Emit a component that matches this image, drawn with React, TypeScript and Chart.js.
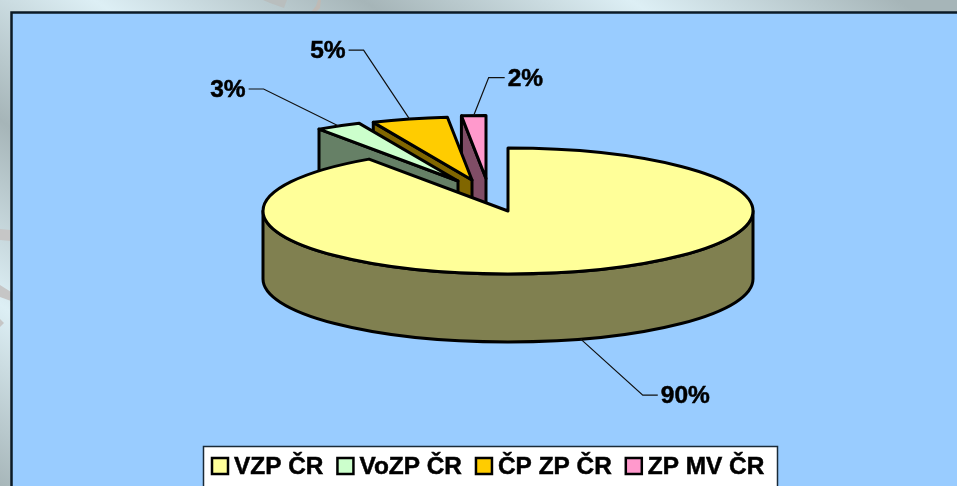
import React, { useEffect, useRef } from "react";
import { Chart, registerables } from "chart.js";

Chart.register(...registerables);

const categories = ["VZP ČR", "VoZP ČR", "ČP ZP ČR", "ZP MV ČR"];
const shares = [90.4, 3.0, 5.0, 1.6];
const topColors = ["#FFFF99", "#CCFFCC", "#FFCC00", "#FF99CC"];
const sideColors = ["#808050", "#668066", "#806600", "#804D66"];

const FONT = '"Liberation Sans", Arial, sans-serif';
const TILT = 63 / 245;
const DEPTH = 68;
// Exploded displacement of each slice on the page, px.
const explode = [
  [0, 0],
  [-50, -30],
  [-36, -31],
  [-22, -32.5],
];
// Elbow of each leader line, relative to its anchor on the slice rim.
const leaderElbow = [
  [62, 56],
  [-75, -37],
  [-46, -69],
  [15, -38],
];
const leaderRun = [15, -15, -15, 16];
const drawOrder = [3, 2, 1, 0];

function poly(ctx: any, color: string, pts: number[][]) {
  ctx.fillStyle = color;
  ctx.beginPath();
  pts.forEach(([x, y], i) => (i ? ctx.lineTo(x, y) : ctx.moveTo(x, y)));
  ctx.closePath();
  ctx.fill();
}

const pie3d = {
  id: "pie3d",
  beforeDraw(chart: any) {
    const { ctx, width, height } = chart;
    ctx.save();
    // Slide-master backdrop: diagonal bands and fragments of a grey swoosh.
    const g = ctx.createLinearGradient(-710, 0, -191, -752);
    const light = "#DDEFF5";
    const dark = "#A6B5B8";
    [dark, light, dark, light, dark, light, dark].forEach((c, i) => g.addColorStop(i / 6, c));
    ctx.fillStyle = g;
    ctx.fillRect(0, 0, width, height);
    poly(ctx, "#C6C6C6", [[0, 229], [11, 230], [11, 241], [0, 240]]);
    poly(ctx, "#C6C6C6", [[0, 285], [11, 292], [11, 301], [0, 297]]);
    poly(ctx, "#C6C6C6", [[0, 319], [4, 323], [0, 327]]);
    poly(ctx, "#B9BEBE", [[263, 0], [287, 0], [284, 8], [270, 3]]);
    poly(ctx, "#BFBAB5", [[311, 12], [316, 6], [318, 0], [321, 0], [320, 8], [316, 12]]);

    ctx.fillStyle = "#99CCFF";
    ctx.strokeStyle = "#0b1a26";
    ctx.lineWidth = 2.5;
    ctx.beginPath();
    ctx.rect(11.5, 12.5, width + 20, height + 20);
    ctx.fill();
    ctx.stroke();
    ctx.restore();
  },
  beforeDatasetDraw(chart: any) {
    const { ctx } = chart;
    const arcs = chart.getDatasetMeta(0).data;
    ctx.save();
    ctx.lineJoin = "round";
    for (const i of drawOrder) {
      const a = arcs[i];
      const R = a.outerRadius;
      const r = R * TILT;
      const cx = a.x + explode[i][0];
      const cy = a.y + explode[i][1];
      const s = a.startAngle;
      const e = a.endAngle;
      ctx.lineWidth = 3;
      ctx.strokeStyle = "#000";
      ctx.fillStyle = sideColors[i];
      const radial = (ang: number) => {
        const x = cx + R * Math.cos(ang);
        const y = cy + r * Math.sin(ang);
        ctx.beginPath();
        ctx.moveTo(cx, cy);
        ctx.lineTo(x, y);
        ctx.lineTo(x, y + DEPTH);
        ctx.lineTo(cx, cy + DEPTH);
        ctx.closePath();
        ctx.fill();
        ctx.stroke();
      };
      if (Math.cos(s) < -1e-6) radial(s);
      if (Math.cos(e) > 1e-6) radial(e);
      const from = Math.max(s, 0);
      const to = Math.min(e, Math.PI);
      if (to > from) {
        ctx.beginPath();
        ctx.ellipse(cx, cy, R, r, 0, from, to);
        ctx.lineTo(cx + R * Math.cos(to), cy + r * Math.sin(to) + DEPTH);
        ctx.ellipse(cx, cy + DEPTH, R, r, 0, to, from, true);
        ctx.closePath();
        ctx.fill();
        ctx.stroke();
      }
      ctx.fillStyle = topColors[i];
      ctx.beginPath();
      ctx.moveTo(cx, cy);
      ctx.ellipse(cx, cy, R, r, 0, s, e);
      ctx.closePath();
      ctx.fill();
      ctx.stroke();
    }
    ctx.restore();
    return false;
  },
  afterDatasetsDraw(chart: any) {
    const { ctx } = chart;
    const arcs = chart.getDatasetMeta(0).data;
    const total = shares.reduce((p, v) => p + v, 0);
    ctx.save();
    ctx.font = `bold 24.5px ${FONT}`;
    ctx.textBaseline = "middle";
    arcs.forEach((a: any, i: number) => {
      const m = (a.startAngle + a.endAngle) / 2;
      const front = Math.sin(m) > 0 ? DEPTH : 0;
      const x0 = a.x + explode[i][0] + a.outerRadius * Math.cos(m);
      const y0 = a.y + explode[i][1] + a.outerRadius * TILT * Math.sin(m) + front;
      const x1 = x0 + leaderElbow[i][0];
      const y1 = y0 + leaderElbow[i][1];
      const x2 = x1 + leaderRun[i];
      ctx.strokeStyle = "#111";
      ctx.lineWidth = 1.2;
      ctx.beginPath();
      ctx.moveTo(x0, y0);
      ctx.lineTo(x1, y1);
      ctx.lineTo(x2, y1);
      ctx.stroke();
      ctx.fillStyle = "#000";
      ctx.strokeStyle = "#000";
      ctx.lineWidth = 0.5;
      ctx.textAlign = leaderRun[i] > 0 ? "left" : "right";
      const gap = leaderRun[i] > 0 ? 3 : -3;
      const text = `${Math.round((shares[i] / total) * 100)}%`;
      ctx.fillText(text, x2 + gap, y1 + 1.5);
      ctx.strokeText(text, x2 + gap, y1 + 1.5);
    });
    ctx.restore();
  },
  afterDraw(chart: any) {
    const { ctx } = chart;
    ctx.save();
    ctx.fillStyle = "#fff";
    ctx.strokeStyle = "#1a2a38";
    ctx.lineWidth = 1.5;
    ctx.beginPath();
    ctx.rect(203.5, 446.5, 574, 60);
    ctx.fill();
    ctx.stroke();
    ctx.font = `bold 24.4px ${FONT}`;
    ctx.textBaseline = "middle";
    ctx.textAlign = "left";
    let x = 212;
    categories.forEach((c, i) => {
      ctx.fillStyle = topColors[i];
      ctx.strokeStyle = "#000";
      ctx.lineWidth = 2.5;
      ctx.fillRect(x, 458, 16, 16);
      ctx.strokeRect(x, 458, 16, 16);
      ctx.fillStyle = "#000";
      ctx.lineWidth = 0.5;
      ctx.fillText(c, x + 22, 467);
      ctx.strokeText(c, x + 22, 467);
      x += 22 + ctx.measureText(c).width + 14;
    });
    ctx.restore();
  },
};

export default function App() {
  const ref = useRef<HTMLCanvasElement>(null);
  useEffect(() => {
    const chart = new Chart(ref.current!, {
      type: "doughnut",
      data: {
        labels: categories,
        datasets: [{ data: shares, backgroundColor: topColors, borderColor: "#000", borderWidth: 2 }],
      },
      options: {
        animation: false,
        responsive: false,
        cutout: 0,
        radius: 245,
        layout: { padding: { left: 59, bottom: 64 } },
        plugins: { legend: { display: false }, tooltip: { enabled: false } },
      },
      plugins: [pie3d],
    } as any);
    return () => chart.destroy();
  }, []);
  return (
    <div style={{ position: "fixed", inset: 0, overflow: "hidden" }}>
      <canvas ref={ref} width={957} height={486} style={{ display: "block" }} />
    </div>
  );
}
